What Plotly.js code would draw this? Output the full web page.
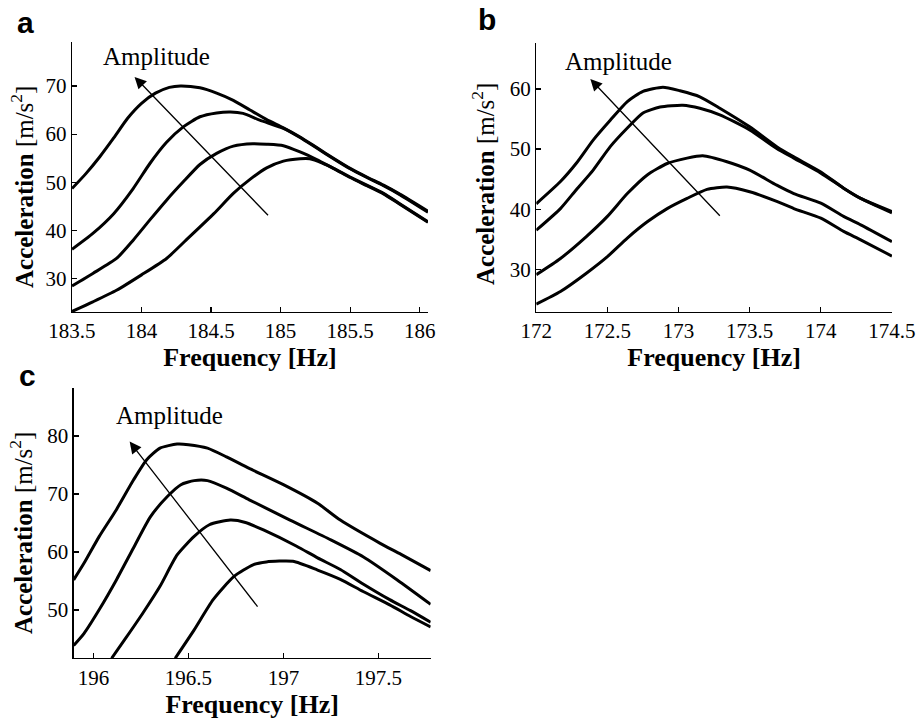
<!DOCTYPE html>
<html>
<head>
<meta charset="utf-8">
<script src="https://cdn.plot.ly/plotly-3.0.1.min.js"></script>
<style>html,body{margin:0;padding:0;background:#fff;}#chart{width:923px;height:721px;}</style>
</head>
<body>
<div id="chart"></div>
<script>
// ---- Panel a data ----
const a1Freq = [183.5, 183.6, 183.7, 183.8, 183.9, 184.0, 184.1, 184.2, 184.28, 184.42, 184.54, 184.66, 184.78, 184.90, 185.02, 185.14, 185.26, 185.38, 185.5, 185.62, 185.74, 185.86, 186.06];
const a1Acc  = [48.7, 51.8, 55.3, 59.2, 63.3, 66.4, 68.5, 69.7, 70.0, 69.6, 68.5, 67.0, 65.0, 63.0, 61.3, 59.4, 57.2, 55.0, 52.9, 51.1, 49.4, 47.5, 44.0];
const a2Freq = [183.5, 183.65, 183.80, 183.94, 184.06, 184.18, 184.30, 184.42, 184.54, 184.64, 184.73, 184.85, 185.02, 185.14, 185.26, 185.38, 185.5, 185.62, 185.74, 185.86, 186.06];
const a2Acc  = [36.1, 39.4, 43.5, 48.7, 53.9, 58.3, 61.5, 63.6, 64.4, 64.6, 64.3, 62.9, 61.2, 59.3, 57.1, 54.9, 52.8, 51.0, 49.3, 47.4, 43.8];
const a3Freq = [183.5, 183.65, 183.82, 183.94, 184.06, 184.18, 184.30, 184.42, 184.54, 184.66, 184.80, 184.90, 185.02, 185.14, 185.26, 185.38, 185.5, 185.62, 185.74, 185.86, 186.06];
const a3Acc  = [28.5, 31.1, 34.2, 38.0, 42.2, 46.3, 50.1, 53.7, 56.0, 57.5, 58.0, 57.9, 57.6, 56.3, 54.7, 52.9, 51.1, 49.4, 47.7, 45.5, 41.8];
const a4Freq = [183.5, 183.65, 183.82, 184.0, 184.18, 184.32, 184.52, 184.66, 184.78, 184.90, 185.02, 185.14, 185.21, 185.30, 185.38, 185.5, 185.62, 185.74, 185.86, 186.06];
const a4Acc  = [23.2, 25.2, 27.6, 30.8, 34.2, 38.0, 43.5, 47.7, 50.6, 53.0, 54.4, 54.9, 54.9, 54.0, 52.9, 51.0, 49.3, 47.6, 45.4, 41.7];

// ---- Panel b data ----
const b1Freq = [172.0, 172.17, 172.28, 172.40, 172.52, 172.64, 172.75, 172.89, 173.01, 173.15, 173.29, 173.5, 173.69, 173.81, 174.0, 174.16, 174.28, 174.5];
const b1Acc  = [40.9, 44.6, 47.6, 51.5, 54.8, 57.9, 59.6, 60.3, 59.7, 58.7, 56.8, 53.7, 50.4, 48.7, 46.2, 43.5, 41.8, 39.6];
const b2Freq = [172.0, 172.17, 172.28, 172.40, 172.52, 172.64, 172.75, 172.87, 173.03, 173.15, 173.29, 173.5, 173.69, 173.81, 174.0, 174.16, 174.28, 174.5];
const b2Acc  = [36.5, 40.1, 43.2, 46.5, 50.4, 53.5, 56.0, 57.0, 57.3, 56.8, 55.7, 53.2, 50.1, 48.5, 46.0, 43.5, 41.8, 39.4];
const b3Freq = [172.0, 172.17, 172.35, 172.5, 172.64, 172.78, 172.92, 173.06, 173.17, 173.34, 173.5, 173.69, 173.81, 174.0, 174.16, 174.28, 174.5];
const b3Acc  = [29.1, 31.8, 35.4, 38.8, 42.6, 45.7, 47.6, 48.5, 48.9, 47.9, 46.5, 44.0, 42.6, 41.0, 38.8, 37.4, 34.6];
const b4Freq = [172.0, 172.17, 172.35, 172.5, 172.64, 172.78, 172.92, 173.06, 173.20, 173.34, 173.5, 173.69, 173.81, 174.0, 174.16, 174.28, 174.5];
const b4Acc  = [24.2, 26.3, 29.3, 32.1, 35.2, 37.9, 40.1, 41.8, 43.3, 43.7, 42.9, 41.3, 40.1, 38.5, 36.3, 34.9, 32.2];

// ---- Panel c data ----
const c1Freq = [195.895, 195.95, 196.03, 196.12, 196.21, 196.28, 196.35, 196.44, 196.5, 196.60, 196.70, 196.82, 197.0, 197.18, 197.30, 197.51, 197.62, 197.776];
const c1Acc  = [55.2, 58.1, 62.7, 67.3, 72.4, 75.9, 77.9, 78.6, 78.5, 77.9, 76.4, 74.4, 71.6, 68.4, 65.5, 61.5, 59.6, 56.8];
const c2Freq = [195.895, 195.95, 196.03, 196.12, 196.21, 196.30, 196.39, 196.46, 196.53, 196.60, 196.70, 196.82, 197.035, 197.25, 197.42, 197.60, 197.776];
const c2Acc  = [43.9, 46.0, 50.1, 55.2, 60.7, 66.1, 69.6, 71.6, 72.3, 72.3, 71.0, 69.0, 65.5, 62.1, 59.2, 55.2, 51.0];
const c3Freq = [196.095, 196.17, 196.26, 196.35, 196.44, 196.53, 196.61, 196.72, 196.80, 196.895, 197.07, 197.18, 197.30, 197.42, 197.56, 197.67, 197.776];
const c3Acc  = [41.7, 45.2, 49.5, 54.1, 59.5, 62.7, 64.7, 65.5, 65.1, 63.8, 61.0, 59.0, 57.0, 54.5, 51.8, 49.9, 47.9];
const c4Freq = [196.43, 196.53, 196.63, 196.74, 196.84, 196.91, 197.05, 197.18, 197.30, 197.42, 197.56, 197.67, 197.776];
const c4Acc  = [41.7, 46.6, 51.8, 55.8, 57.8, 58.3, 58.4, 56.9, 55.3, 53.2, 50.9, 48.9, 47.1];

// ---- Tick labels ----
const aTicksX = [183.5, 184, 184.5, 185, 185.5, 186];
const aTicksY = [30, 40, 50, 60, 70];
const bTicksX = [172, 172.5, 173, 173.5, 174, 174.5];
const bTicksY = [30, 40, 50, 60];
const cTicksX = [196, 196.5, 197, 197.5];
const cTicksY = [50, 60, 70, 80];

const panelLetters = ['a', 'b', 'c'];
const arrowLabel = 'Amplitude';
const xTitle = '<b>Frequency [Hz]</b>';
const yTitle = '<b>Acceleration</b> [m/s<sup>2</sup>]';

const serif = '"Liberation Serif", "Times New Roman", serif';
const sans = '"Liberation Sans", Arial, sans-serif';

function tr(x, y, xa, ya) {
  return {x: x, y: y, xaxis: xa, yaxis: ya, type: 'scatter', mode: 'lines',
          line: {color: '#000', width: 3, shape: 'spline', smoothing: 0.6},
          hoverinfo: 'skip', showlegend: false};
}

const data = [
  tr(a1Freq, a1Acc, 'x', 'y'), tr(a2Freq, a2Acc, 'x', 'y'),
  tr(a3Freq, a3Acc, 'x', 'y'), tr(a4Freq, a4Acc, 'x', 'y'),
  tr(b1Freq, b1Acc, 'x2', 'y2'), tr(b2Freq, b2Acc, 'x2', 'y2'),
  tr(b3Freq, b3Acc, 'x2', 'y2'), tr(b4Freq, b4Acc, 'x2', 'y2'),
  tr(c1Freq, c1Acc, 'x3', 'y3'), tr(c2Freq, c2Acc, 'x3', 'y3'),
  tr(c3Freq, c3Acc, 'x3', 'y3'), tr(c4Freq, c4Acc, 'x3', 'y3')
];

function ax(domain, range, ticks, anchor, isX) {
  const o = {domain: domain, range: range, anchor: anchor, tickmode: 'array', tickvals: ticks,
    ticks: 'inside', ticklen: 5, tickcolor: '#000', tickwidth: 1.2,
    showline: true, linecolor: '#000', linewidth: 1.2, showgrid: false, zeroline: false,
    tickfont: {family: serif, size: 21, color: '#000'}};
  if (isX) {
    o.title = {text: xTitle, font: {family: serif, size: 26, color: '#000'}, standoff: 4};
  }
  return o;
}

function arrow(xa, ya, x, y, axv, ayv) {
  return {xref: xa, yref: ya, axref: xa, ayref: ya, x: x, y: y, ax: axv, ay: ayv,
          showarrow: true, arrowhead: 2, arrowsize: 1.8, arrowwidth: 1.3, arrowcolor: '#000', text: ''};
}
function label(xa, ya, x, y) {
  return {xref: xa, yref: ya, x: x, y: y, text: arrowLabel, showarrow: false,
          xanchor: 'center', yanchor: 'middle', font: {family: serif, size: 25, color: '#000'}};
}
function letter(txt, px, py) {
  return {xref: 'paper', yref: 'paper', x: px / 923, y: 1 - py / 721, text: '<b>' + txt + '</b>',
          xanchor: 'center', yanchor: 'middle', showarrow: false,
          font: {family: sans, size: 30, color: '#000'}};
}
function ytitle(px, py) {
  return {xref: 'paper', yref: 'paper', x: px / 923, y: 1 - py / 721, text: yTitle, textangle: -90,
          xanchor: 'center', yanchor: 'middle', showarrow: false,
          font: {family: serif, size: 25, color: '#000'}};
}

const layout = {
  width: 923, height: 721,
  margin: {l: 0, r: 0, t: 0, b: 0},
  paper_bgcolor: '#fff', plot_bgcolor: '#fff',
  font: {family: serif, size: 21, color: '#000'},
  showlegend: false,
  xaxis:  ax([0.0780, 0.4637], [183.5, 186.06], aTicksX, 'y', true),
  yaxis:  ax([0.5673, 0.9417], [23.1, 79.1], aTicksY, 'x', false),
  xaxis2: ax([0.5810, 0.9664], [172, 174.5], bTicksX, 'y2', true),
  yaxis2: ax([0.5673, 0.9408], [22.9, 67.7], bTicksY, 'x2', false),
  xaxis3: ax([0.0798, 0.4666], [195.895, 197.776], cTicksX, 'y3', true),
  yaxis3: ax([0.0870, 0.4614], [41.7, 88.2], cTicksY, 'x3', false),
  annotations: [
    arrow('x', 'y', 183.95, 71.87, 184.92, 42.85),
    arrow('x2', 'y2', 172.38, 61.66, 173.30, 38.65),
    arrow('x3', 'y3', 196.19, 79.02, 196.87, 50.34),
    label('x', 'y', 184.11, 76.16),
    label('x2', 'y2', 172.58, 64.49),
    label('x3', 'y3', 196.40, 83.44),
    ytitle(22, 187),
    ytitle(483, 184),
    ytitle(21, 533),
    letter(panelLetters[0], 25, 23),
    letter(panelLetters[1], 487, 20),
    letter(panelLetters[2], 27, 375)
  ]
};

Plotly.newPlot('chart', data, layout, {displayModeBar: false, staticPlot: true});
</script>
</body>
</html>
